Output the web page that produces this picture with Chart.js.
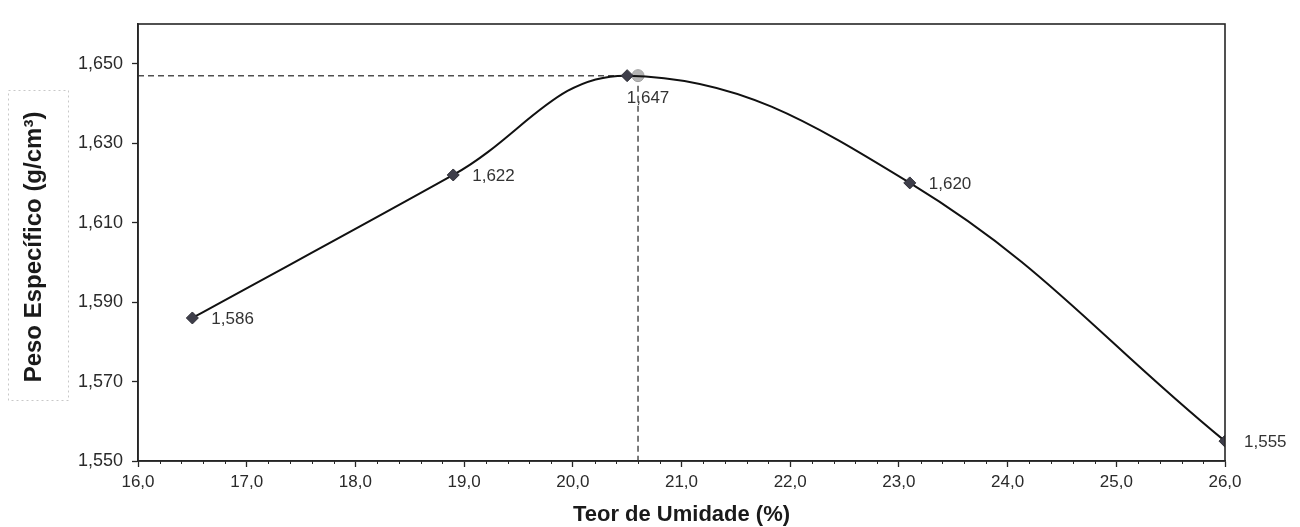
<!DOCTYPE html>
<html>
<head>
<meta charset="utf-8">
<script src="https://cdn.jsdelivr.net/npm/chart.js@4.4.1/dist/chart.umd.min.js"></script>
<style>
html,body{margin:0;padding:0;background:#fff;overflow:hidden;}
canvas{display:block;}
</style>
</head>
<body>
<canvas id="c" width="1300" height="527"></canvas>
<script>
// ---- data ----
const moisture = [16.5, 18.9, 20.5, 23.1, 26.0];            // Teor de Umidade (%)
const density  = [1.586, 1.622, 1.647, 1.620, 1.555];        // Peso Específico (g/cm³)
const pointLabels = ['1,586', '1,622', '', '1,620', '1,555'];
const optMoisture = [20.6];
const optDensity  = [1.647];
const optLabels   = ['1,647'];
const xTicks = [16, 17, 18, 19, 20, 21, 22, 23, 24, 25, 26];
const yTicks = [1.550, 1.570, 1.590, 1.610, 1.630, 1.650];
const yMaxValue = 1.66;
const xTitle = 'Teor de Umidade (%)';
const yTitle = 'Peso Específico (g/cm³)';

const fmt = (v, d) => v.toFixed(d).replace('.', ',');

const curveData = moisture.map((x, i) => ({x: x, y: density[i]}));
const xMin = xTicks[0], xMax = xTicks[xTicks.length - 1];
const yMin = yTicks[0];
const optGuide = [
  {x: xMin, y: optDensity[0]},
  {x: optMoisture[0], y: optDensity[0]},
  {x: optMoisture[0], y: yMin}
];

const FONT = '"Liberation Sans", Arial, sans-serif';

const decor = {
  id: 'decor',
  afterDraw(chart) {
    const ctx = chart.ctx;
    const a = chart.chartArea;
    const xs = chart.scales.x;
    ctx.save();
    // plot frame
    ctx.strokeStyle = '#262626';
    ctx.lineWidth = 1.6;
    ctx.strokeRect(a.left, a.top, a.right - a.left, a.bottom - a.top);
    // minor ticks on x axis
    ctx.lineWidth = 1;
    ctx.beginPath();
    for (let i = 0; i < xTicks.length - 1; i++) {
      for (let k = 1; k < 5; k++) {
        const v = xTicks[i] + (xTicks[i + 1] - xTicks[i]) * k / 5;
        const px = Math.round(xs.getPixelForValue(v)) + 0.5;
        ctx.moveTo(px, a.bottom);
        ctx.lineTo(px, a.bottom + 3);
      }
    }
    ctx.stroke();
    // data labels
    ctx.fillStyle = '#333';
    ctx.font = '17px ' + FONT;
    ctx.textBaseline = 'middle';
    ctx.textAlign = 'left';
    const m0 = chart.getDatasetMeta(1);
    m0.data.forEach((el, i) => {
      if (pointLabels[i]) ctx.fillText(pointLabels[i], el.x + 19, el.y + 1);
    });
    const m1 = chart.getDatasetMeta(0);
    ctx.textAlign = 'center';
    ctx.fillText(optLabels[0], m1.data[1].x + 10, m1.data[1].y + 23);
    // axis titles
    ctx.fillStyle = '#1a1a1a';
    ctx.font = 'bold 22px ' + FONT;
    ctx.textAlign = 'center';
    ctx.fillText(xTitle, (a.left + a.right) / 2, 515);
    ctx.save();
    ctx.translate(34, 247);
    ctx.rotate(-Math.PI / 2);
    ctx.font = 'bold 24px ' + FONT;
    ctx.fillText(yTitle, 0, 0);
    ctx.restore();
    // dotted box around y title
    ctx.strokeStyle = '#c8c8c8';
    ctx.lineWidth = 1;
    ctx.setLineDash([2, 3]);
    ctx.strokeRect(8.5, 90.5, 60, 310);
    ctx.restore();
  }
};

new Chart(document.getElementById('c'), {
  type: 'line',
  data: {
    datasets: [
      {
        label: 'optimum',
        data: optGuide,
        borderColor: '#505050',
        borderWidth: 1.5,
        borderDash: [6, 4],
        tension: 0,
        pointRadius: [0, 6, 0],
        pointHoverRadius: [0, 6, 0],
        pointStyle: 'circle',
        pointBackgroundColor: '#b4b4b4',
        pointBorderColor: '#a0a0a0',
        pointBorderWidth: 1,
        order: 2
      },
      {
        label: 'curve',
        data: curveData,
        borderColor: '#111',
        borderWidth: 2,
        tension: 0.4,
        pointStyle: 'rectRot',
        pointRadius: 6,
        pointHoverRadius: 6,
        pointBackgroundColor: '#3e3e4a',
        pointBorderColor: '#2e2e36',
        pointBorderWidth: 1,
        order: 1
      }
    ]
  },
  options: {
    responsive: false,
    animation: false,
    devicePixelRatio: 1,
    layout: {padding: {top: 24, right: 75, bottom: 0, left: 0}},
    plugins: {legend: {display: false}, tooltip: {enabled: false}},
    scales: {
      x: {
        type: 'linear',
        min: xMin, max: xMax,
        afterBuildTicks: s => { s.ticks = xTicks.map(v => ({value: v})); },
        afterFit: s => { s.height = 66; },
        ticks: {
          callback: v => fmt(v, 1),
          color: '#2a2a2a',
          font: {family: FONT, size: 17},
          padding: 5,
          maxRotation: 0,
          autoSkip: false
        },
        grid: {drawOnChartArea: false, drawTicks: true, tickLength: 6, tickColor: '#262626', tickWidth: 1.3},
        border: {display: true, color: '#262626', width: 1.6}
      },
      y: {
        type: 'linear',
        min: yMin, max: yMaxValue,
        afterBuildTicks: s => { s.ticks = yTicks.map(v => ({value: v})); },
        afterFit: s => { s.width = 138; },
        ticks: {
          callback: v => fmt(v, 3),
          color: '#2a2a2a',
          font: {family: FONT, size: 18},
          padding: 9,
          autoSkip: false
        },
        grid: {drawOnChartArea: false, drawTicks: true, tickLength: 6, tickColor: '#262626', tickWidth: 1.3},
        border: {display: true, color: '#262626', width: 1.6}
      }
    }
  },
  plugins: [decor]
});
</script>
</body>
</html>
